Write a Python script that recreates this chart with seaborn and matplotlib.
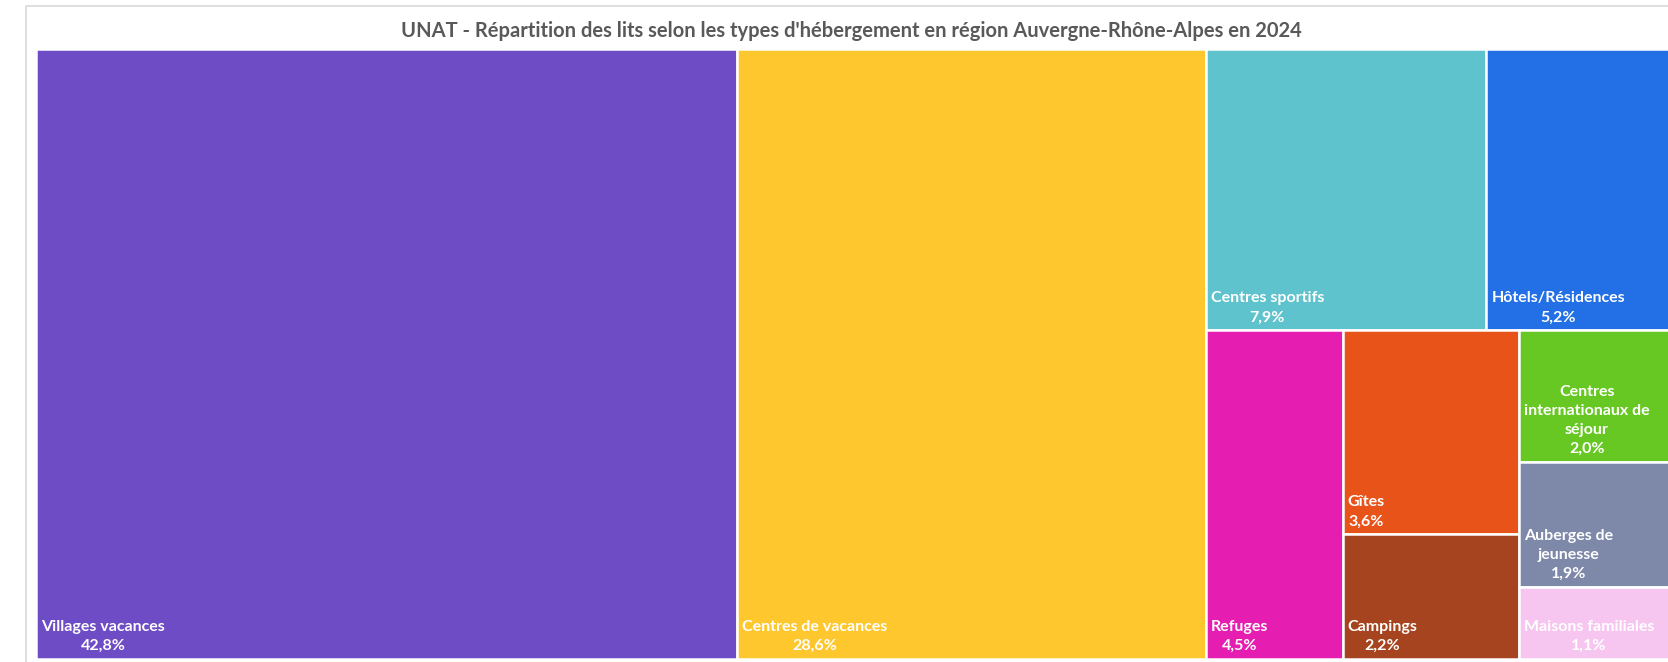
import matplotlib
matplotlib.use("Agg")
import matplotlib.pyplot as plt
from matplotlib.patches import Rectangle
import seaborn as sns

# données UNAT 2024 (part des lits, %)
labels = [
    "Villages vacances",
    "Centres de vacances",
    "Centres sportifs",
    "Hôtels/Résidences",
    "Refuges",
    "Gîtes",
    "Campings",
    "Centres\ninternationaux de\nséjour",
    "Auberges de\njeunesse",
    "Maisons familiales",
]
shares = [42.8, 28.6, 7.9, 5.2, 4.5, 3.6, 2.2, 2.0, 1.9, 1.1]
colors = [
    "#6E4CC6", "#FFC72E", "#5FC3CD", "#236FE6", "#E51EB1",
    "#E8531A", "#A5441E", "#67C823", "#7E88A9", "#F6C6F0",
]

# regroupement des tuiles (indices), comme dans le treemap Excel
layout = ("h", [0, 1, ("v", [("h", [2, 3]), ("h", [4, ("v", [5, 6]), ("v", [7, 8, 9])])])])


def node_total(node):
    if isinstance(node, int):
        return shares[node]
    return sum(node_total(c) for c in node[1])


def place(node, x, y, w, h, out):
    if isinstance(node, int):
        out[node] = (x, y, w, h)
        return
    direction, children = node
    tot = node_total(node)
    for c in children:
        frac = node_total(c) / tot
        if direction == "h":
            place(c, x, y, w * frac, h, out)
            x += w * frac
        else:
            place(c, x, y, w, h * frac, out)
            y += h * frac


sns.set_style("white")
plt.rcParams["font.family"] = ["Lato", "DejaVu Sans"]

W = 1668
H = 662
fig = plt.figure(figsize=(W / 100, H / 100), dpi=100)

# cadre du graphique
fig.patches.append(Rectangle((26 / W, -0.05), 1.1, 1 - 6 / H + 0.05, transform=fig.transFigure,
                             fill=False, edgecolor="#D9D9D9", linewidth=1.2))

ax = fig.add_axes([36 / W, 3 / H, 1635 / W, 610 / H])

total = sum(shares)
rects = {}
place(layout, 0.0, 0.0, total, 1.0, rects)

xs = [rects[i][0] for i in range(len(shares))]
ys = [rects[i][1] for i in range(len(shares))]
ws = [rects[i][2] for i in range(len(shares))]
hs = [rects[i][3] for i in range(len(shares))]

ax.bar(xs, hs, width=ws, bottom=ys, align="edge", color=colors,
       edgecolor="white", linewidth=1.8)

for i, lab in enumerate(labels):
    pct = f"{shares[i]:.1f}".replace(".", ",") + "%"
    ax.annotate(f"{lab}\n{pct}", xy=(xs[i], ys[i] + hs[i]), xytext=(5, 6),
                textcoords="offset pixels", ha="left", va="bottom",
                multialignment="center", color="white", fontsize=11.5,
                fontweight="bold", linespacing=1.45)

ax.set_xlim(0, total)
ax.set_ylim(1, 0)
ax.axis("off")

fig.text(851 / W, 1 - 31 / H,
         "UNAT - Répartition des lits selon les types d'hébergement en région Auvergne-Rhône-Alpes en 2024",
         ha="center", va="center", fontsize=14.5, color="#595959", fontweight="bold")

plt.savefig("out.png", dpi=100)
plt.close()
